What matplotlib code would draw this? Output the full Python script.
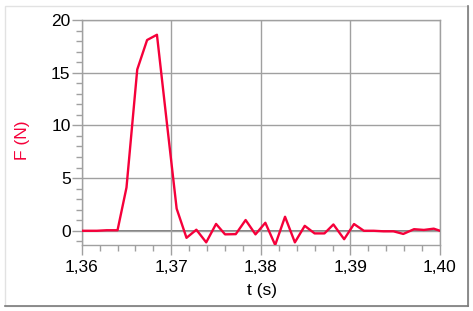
import matplotlib
matplotlib.use("Agg")
import matplotlib.pyplot as plt
from matplotlib.patches import Rectangle
from matplotlib.lines import Line2D
from matplotlib.ticker import FixedLocator, MultipleLocator

plt.rcParams['font.family'] = ['Liberation Sans', 'DejaVu Sans']

# Data
t = [1.3600, 1.3617, 1.3628, 1.3640, 1.3650, 1.3662, 1.3673, 1.3684, 1.3695,
     1.3706, 1.3717, 1.3728, 1.3739, 1.3750, 1.3760, 1.3772, 1.3783, 1.3794,
     1.3805, 1.3816, 1.3827, 1.3838, 1.3849, 1.3860, 1.3871, 1.3881, 1.3893,
     1.3904, 1.3915, 1.3926, 1.3937, 1.3948, 1.3959, 1.3971, 1.3982, 1.3993,
     1.4000]
F = [0.0, 0.0, 0.05, 0.05, 4.1, 15.3, 18.1, 18.6, 10.3,
     2.1, -0.67, 0.1, -1.1, 0.65, -0.34, -0.32, 1.02, -0.34,
     0.76, -1.35, 1.33, -1.1, 0.47, -0.25, -0.25, 0.6, -0.8,
     0.64, 0.0, 0.0, -0.05, -0.05, -0.3, 0.15, 0.08, 0.2,
     0.0]

xticks = [1.36, 1.37, 1.38, 1.39, 1.40]
xtick_labels = ["1,36", "1,37", "1,38", "1,39", "1,40"]
yticks = [0, 5, 10, 15, 20]
ytick_labels = ["0", "5", "10", "15", "20"]

W, H = 473, 311
fig = plt.figure(figsize=(W / 100, H / 100), dpi=100)
fig.patch.set_facecolor('white')

# outer panel frame
fig.add_artist(Rectangle((5 / W, 1 - 306 / H), 463 / W, 300 / H, transform=fig.transFigure,
                         facecolor='none', edgecolor='#e2e2e2', lw=1.0))
fig.add_artist(Line2D([468 / W, 468 / W], [1 - 306 / H, 1 - 6 / H], transform=fig.transFigure,
                      color='#7a7a7a', lw=1.2))
fig.add_artist(Line2D([5 / W, 468 / W], [1 - 306 / H, 1 - 306 / H], transform=fig.transFigure,
                      color='#7a7a7a', lw=1.2))

left, right, top, bottom = 81.7, 440, 20, 245
ax = fig.add_axes([left / W, 1 - bottom / H, (right - left) / W, (bottom - top) / H])

gray = '#a0a0a0'
red = '#f5003a'
ax.set_xlim(1.36, 1.40)
ax.set_ylim(-1.35, 20)

for s in ax.spines.values():
    s.set_color(gray)
    s.set_linewidth(1.0)

ax.xaxis.set_major_locator(FixedLocator(xticks))
ax.set_xticklabels(xtick_labels)
ax.xaxis.set_minor_locator(MultipleLocator(0.002))
ax.yaxis.set_major_locator(FixedLocator(yticks))
ax.set_yticklabels(ytick_labels)
ax.yaxis.set_minor_locator(MultipleLocator(1))

ax.tick_params(axis='both', which='major', direction='out', length=7, width=1.0,
               color=gray, labelsize=12.5, labelcolor='black')
ax.tick_params(axis='both', which='minor', direction='out', length=4, width=1.0, color=gray)
ax.tick_params(axis='y', which='major', pad=1)
ax.tick_params(axis='x', which='major', pad=4)

ax.grid(True, which='major', color=gray, lw=1.0)
ax.axhline(0, color='#6a6a6a', lw=1.2, zorder=1.5)

ax.plot(t, F, color=red, lw=1.7, zorder=3, clip_on=True)

fig.text(262 / W, 1 - 290 / H, 't (s)', fontsize=12.5, color='black', ha='center', va='center')
fig.text(22 / W, 1 - 140 / H, 'F (N)', fontsize=12.5, color=red, ha='center', va='center',
         rotation=90)

fig.savefig('out.png', dpi=100)
